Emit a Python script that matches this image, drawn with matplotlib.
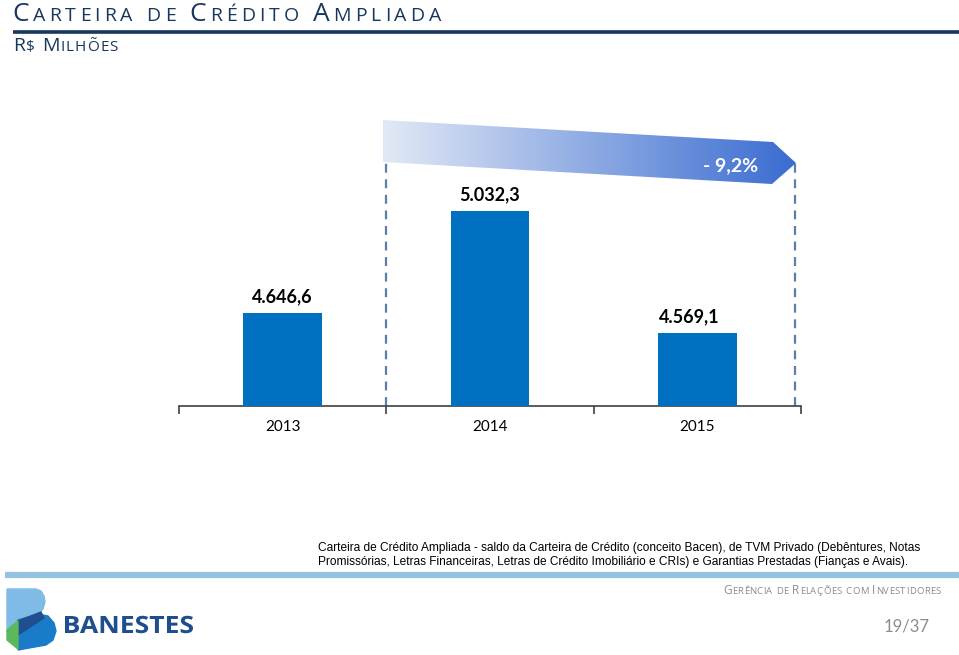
import numpy as np
import matplotlib
matplotlib.use("Agg")
import matplotlib.pyplot as plt
from matplotlib.patches import Polygon, PathPatch
from matplotlib.textpath import TextPath
from matplotlib.font_manager import FontProperties
from matplotlib.transforms import Affine2D

# data
years = ["2013", "2014", "2015"]
saldo = [4646.6, 5032.3, 4569.1]
saldo_labels = ["4.646,6", "5.032,3", "4.569,1"]
variacao = "- 9,2%"

navy = "#17375e"
bar_blue = "#0070c0"
plt.rcParams["font.family"] = ["Lato", "DejaVu Sans"]

fig = plt.figure(figsize=(9.59, 6.55), dpi=100)

# overlay in pixel coordinates for the slide decorations
deco = fig.add_axes([0, 0, 1, 1], zorder=0)
deco.set_xlim(0, 959)
deco.set_ylim(655, 0)
deco.axis("off")
renderer = fig.canvas.get_renderer()


def small_caps(x0, x1, y, text, big, small, color, family="Open Sans"):
    """ write text in small caps between x0 and x1 (pixels), baseline at y """
    pieces = []
    for ch in text:
        size = big if ch.isupper() else small
        t = deco.text(0, y, ch.upper(), fontsize=size, color=color, va="baseline",
                      family=family)
        w = t.get_window_extent(renderer).width
        if ch == " ":
            w = small * 0.45
        pieces.append((t, w))
    natural = sum(w for _, w in pieces)
    track = (x1 - x0 - natural) / (len(pieces) - 1)
    x = x0
    for t, w in pieces:
        t.set_x(x)
        x += w + track


small_caps(12, 441, 21, "Carteira de Crédito Ampliada", 19, 14, navy)
deco.plot([13, 959], [31.5, 31.5], color=navy, lw=2.6, solid_capstyle="butt")
small_caps(13, 118, 51, "R$ Milhões", 14, 11, navy)

# gradient arrow
arrow = Polygon([(383, 120), (773, 142), (796, 163), (772, 184), (383, 162)],
                closed=True, facecolor="none", edgecolor="none")
deco.add_patch(arrow)
grad = np.linspace(0, 1, 256).reshape(1, -1)
cmap = matplotlib.colors.LinearSegmentedColormap.from_list("arr", ["#e2e9f6", "#3a6cd0"])
im = deco.imshow(grad, extent=(383, 796, 184, 120), cmap=cmap, aspect="auto", zorder=1)
im.set_clip_path(arrow)
deco.set_xlim(0, 959)
deco.set_ylim(655, 0)
deco.text(758, 166, variacao, color="white", fontsize=14, fontweight="bold",
          ha="right", va="center", zorder=2)

# footer
deco.text(318, 548, "Carteira de Crédito Ampliada - saldo da Carteira de Crédito (conceito Bacen), de TVM Privado (Debêntures, Notas",
          fontsize=8.6, family="Liberation Sans", va="center")
deco.text(318, 562, "Promissórias, Letras Financeiras, Letras de Crédito Imobiliário e CRIs) e Garantias Prestadas (Fianças e Avais).",
          fontsize=8.6, family="Liberation Sans", va="center")
deco.plot([5, 959], [575, 575], color="#92c4e2", lw=4.5, solid_capstyle="butt")
small_caps(723, 941, 594, "Gerência de Relações com Investidores", 8.5, 6.8, "#8c8c8c")
deco.text(930, 627, "19/37", color="#8c8c8c", fontsize=12, ha="right", va="center")

# logo
deco.add_patch(Polygon([(7, 589), (36, 589), (41, 591), (44, 596), (45, 602), (43, 609),
                        (38, 614), (7, 632)], closed=True, color="#80bbe8", zorder=1))
deco.add_patch(Polygon([(18, 620), (38, 614), (48, 616), (54, 623), (56, 631), (53, 640),
                        (46, 645), (18, 650)], closed=True, color="#1a7cc8", zorder=2))
deco.add_patch(Polygon([(18, 621), (41, 612), (44, 618), (18, 635)], closed=True,
                       color="#1f4f8f", zorder=3))
deco.add_patch(Polygon([(7, 630), (18, 621), (18, 649), (7, 640)], closed=True,
                       color="#5cb85c", zorder=3))
tp = TextPath((0, 0), "BANESTES", size=10, prop=FontProperties(family="Open Sans", weight="bold"))
ext = tp.get_extents()
tr = Affine2D().translate(-ext.x0, 0).scale(128 / ext.width, -17 / 7.14).translate(65, 633)
deco.add_patch(PathPatch(tr.transform_path(tp), color="#1e4e8c", lw=0, zorder=3))

# chart
ax = fig.add_axes([179 / 959, 249 / 655, 622 / 959, 286 / 655], zorder=2)
ax.patch.set_alpha(0)
x = np.arange(len(years))
ax.bar(x, saldo, width=0.38, color=bar_blue, zorder=3)
ax.set_xlim(-0.5, 2.5)
ax.set_ylim(4295, 5376)
offsets = [0, 0, -0.04]
for xi, v, lab, off in zip(x, saldo, saldo_labels, offsets):
    ax.text(xi + off, v + 62, lab, ha="center", va="center", fontsize=13, fontweight="bold")

ax.axvline(0.5, ymin=0, ymax=0.86, color="#5b7fa6", lw=1.6, ls=(0, (4, 3)), zorder=2)
ax.axvline(2.47, ymin=0, ymax=0.86, color="#5b7fa6", lw=1.6, ls=(0, (4, 3)), zorder=2)

for side in ["top", "right", "left"]:
    ax.spines[side].set_visible(False)
ax.spines["bottom"].set_color("#404040")
ax.spines["bottom"].set_linewidth(1.2)
ax.set_yticks([])
ax.set_xticks([-0.5, 0.5, 1.5, 2.5])
ax.set_xticklabels([])
ax.set_xticks(x, minor=True)
ax.set_xticklabels(years, minor=True, fontsize=11)
ax.tick_params(axis="x", which="major", length=6, width=1.2, color="#404040", direction="out")
ax.tick_params(axis="x", which="minor", length=0, pad=10)

fig.savefig("out.png", dpi=100)
